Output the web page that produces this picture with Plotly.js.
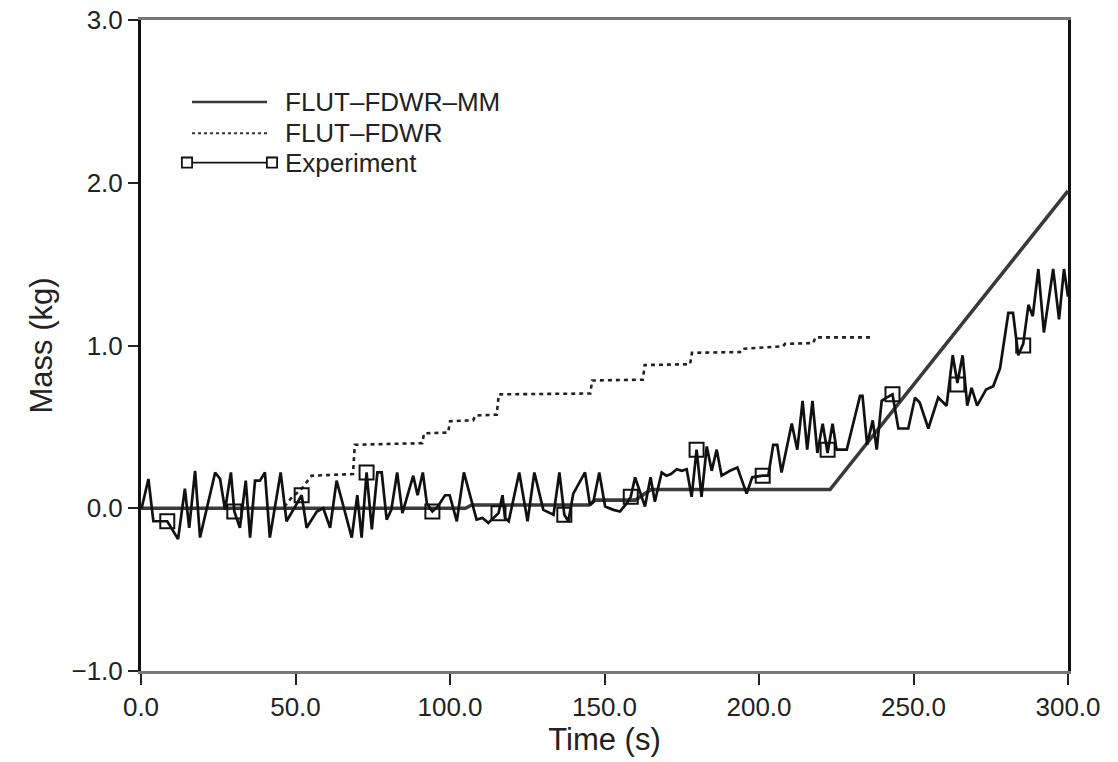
<!DOCTYPE html>
<html>
<head>
<meta charset="utf-8">
<script src="https://cdn.plot.ly/plotly-3.0.1.min.js"></script>
<style>
  html, body { margin: 0; padding: 0; background: #ffffff; }
  #chart { width: 1118px; height: 762px; }
</style>
</head>
<body>
<div id="chart"></div>
<script>
// ---- Data ----
const seriesNames = ["FLUT–FDWR–MM", "FLUT–FDWR", "Experiment"];

// FLUT-FDWR-MM (solid)
const mmTime = [0, 105, 107, 145, 147, 160, 165, 223, 300];
const mmMass = [0, 0, 0.02, 0.02, 0.05, 0.05, 0.115, 0.115, 1.95];

// FLUT-FDWR (dotted step line)
const fdwrTime = [0, 46, 48.5, 52, 55.2, 68.6, 69.2, 91, 91.6, 99.4, 100, 107.5, 108.2, 115.1, 115.8,
                  145.4, 146, 162.4, 163, 177.7, 178.3, 194.7, 195.3, 207.8, 208.4, 217.6, 218.2, 236.6];
const fdwrMass = [0, 0, 0.06, 0.12, 0.2, 0.21, 0.39, 0.4, 0.46, 0.465, 0.535, 0.54, 0.57, 0.575, 0.7,
                  0.705, 0.785, 0.79, 0.88, 0.885, 0.955, 0.96, 0.98, 0.995, 1.01, 1.015, 1.05, 1.05];

// Experiment (measured, noisy line)
const expTime = [0.2, 2.4, 4, 7.2, 8.5, 12, 14.2, 15.6, 17.5, 19.1, 24, 25.6, 27.2, 29.1, 30.2, 32, 33.9, 35.3,
  36.9, 38.5, 40.1, 41.7, 45.2, 47.1, 52, 53.6, 56.9, 59, 61.2, 63.3, 68.2, 70, 71.4, 73, 74.7, 76.5, 77.9,
  79.5, 81, 82.9, 84.6, 88.1, 89.5, 91.2, 92.5, 94.3, 96, 98.4, 99.9, 102.2, 104.5, 108.6, 110.5, 112.4,
  115.7, 117, 117.8, 119, 122.4, 125.1, 127.3, 130.2, 133.5, 135.4, 137, 138.3, 139.9, 143.7, 145.3, 146.4,
  148.3, 150.2, 152.9, 155, 157.2, 158.5, 159.9, 163.1, 164.9, 166.3, 168.5, 170, 171.5, 173.4, 175, 176.6,
  178.2, 179.8, 181.4, 183.1, 184.7, 186.3, 187.9, 190.6, 193, 196, 197.8, 201.2, 203, 204.6, 205.9, 207.3,
  210.6, 212.4, 214.1, 215.6, 217.3, 218.9, 220.6, 222.2, 223.8, 225.1, 228.4, 232.7, 233.5, 235, 236.8,
  238.1, 239.7, 241.3, 243.2, 245.1, 248.3, 250.5, 252, 254.8, 258, 260.7, 262.7, 264.2, 265.9, 267.4,
  268.8, 270.6, 273.5, 275.8, 278, 280.7, 282.2, 283.9, 285.5, 287.2, 288.6, 290.4, 292.2, 295.2, 297.1,
  298.7, 300];
const expMass = [0, 0.18, -0.08, -0.08, -0.08, -0.19, 0.12, -0.12, 0.23, -0.18, 0.22, 0.18, -0.01, 0.22, -0.02,
  -0.12, 0.17, -0.18, 0.17, 0.17, 0.22, -0.18, 0.22, -0.08, 0.08, -0.12, -0.02, 0, -0.12, 0.17, -0.18, 0.08,
  -0.18, 0.22, -0.13, 0.22, 0.22, -0.07, -0.01, 0.22, -0.03, 0.2, 0.08, 0.22, 0.03, -0.02, 0.01, 0.08, 0.08,
  -0.08, 0.22, -0.07, -0.06, -0.09, -0.03, 0.08, -0.06, -0.08, 0.22, -0.08, 0.22, -0.01, -0.04, 0.22, -0.04,
  -0.08, 0.09, 0.22, 0.02, 0.04, 0.22, 0.01, -0.01, -0.02, 0.03, 0.07, 0.19, 0.01, 0.19, 0.04, 0.22, 0.2,
  0.21, 0.24, 0.23, 0.24, 0.07, 0.36, 0.07, 0.38, 0.23, 0.36, 0.2, 0.23, 0.25, 0.09, 0.19, 0.2, 0.2, 0.39,
  0.39, 0.22, 0.52, 0.36, 0.66, 0.36, 0.66, 0.34, 0.52, 0.34, 0.52, 0.36, 0.36, 0.69, 0.69, 0.39, 0.54,
  0.36, 0.66, 0.68, 0.7, 0.49, 0.49, 0.68, 0.65, 0.49, 0.68, 0.63, 0.94, 0.77, 0.94, 0.63, 0.74, 0.63,
  0.73, 0.75, 0.86, 1.2, 1.2, 0.94, 1.01, 1.25, 1.18, 1.47, 1.08, 1.47, 1.16, 1.47, 1.3];

// Experiment square symbols
const expMarkTime = [8.5, 30.2, 52, 73, 94.3, 115.7, 137, 158.5, 179.8, 201.2, 222.2, 243.2, 264.2, 285.5];
const expMarkMass = [-0.08, -0.02, 0.08, 0.22, -0.02, -0.03, -0.04, 0.07, 0.36, 0.2, 0.36, 0.7, 0.76, 1.0];

// Axis ticks
const xTicks = [0, 50, 100, 150, 200, 250, 300];
const xTickLabels = ["0.0", "50.0", "100.0", "150.0", "200.0", "250.0", "300.0"];
const yTicks = [-1, 0, 1, 2, 3];
const yTickLabels = ["\u22121.0", "0.0", "1.0", "2.0", "3.0"];

// ---- Chart ----
const FONT = "Liberation Sans, Arial, sans-serif";
const traces = [
  { x: fdwrTime, y: fdwrMass, mode: "lines", name: seriesNames[1],
    line: { color: "#222", width: 2.6, dash: "4px,4px" }, showlegend: false },
  { x: mmTime, y: mmMass, mode: "lines", name: seriesNames[0],
    line: { color: "#3a3a3a", width: 3.6 }, showlegend: false },
  { x: expTime, y: expMass, mode: "lines", name: seriesNames[2],
    line: { color: "#111", width: 2.7 }, showlegend: false },
  { x: expMarkTime, y: expMarkMass, mode: "markers", name: seriesNames[2],
    marker: { symbol: "square-open", size: 14, color: "#111", line: { width: 2, color: "#111" } },
    showlegend: false }
];

// custom legend (paper coordinates)
const lgX0 = 0.055, lgX1 = 0.136, lgText = 0.153;
const lgY = [0.874, 0.826, 0.781];
const sq = (cx, cy) => ({ type: "rect", xref: "paper", yref: "paper",
  x0: cx - 0.0055, x1: cx + 0.0055, y0: cy - 0.0078, y1: cy + 0.0078,
  line: { color: "#111", width: 1.8 }, fillcolor: "rgba(0,0,0,0)" });

const layout = {
  width: 1118, height: 762,
  margin: { l: 141, r: 50, t: 20, b: 91 },
  paper_bgcolor: "#fff", plot_bgcolor: "#fff",
  font: { family: FONT, color: "#222", size: 26 },
  xaxis: {
    range: [0, 300], tickvals: xTicks, ticktext: xTickLabels,
    showgrid: false, zeroline: false,
    showline: true, mirror: true, linecolor: "#777", linewidth: 3,
    ticks: "outside", ticklen: 11, tickwidth: 2, tickcolor: "#222",
    tickfont: { size: 26, family: FONT, color: "#222" },
    title: { text: "Time (s)", font: { size: 31, family: FONT, color: "#222" }, standoff: 8 }
  },
  yaxis: {
    range: [-1, 3], tickvals: yTicks, ticktext: yTickLabels,
    showgrid: false, zeroline: false,
    showline: true, mirror: true, linecolor: "#111", linewidth: 3,
    ticks: "outside", ticklen: 10, tickwidth: 2, tickcolor: "#222",
    tickfont: { size: 26, family: FONT, color: "#222" },
    title: { text: "Mass (kg)", font: { size: 31, family: FONT, color: "#222" }, standoff: 10 }
  },
  showlegend: false,
  shapes: [
    { type: "line", xref: "paper", yref: "paper", x0: lgX0, x1: lgX1, y0: lgY[0], y1: lgY[0],
      line: { color: "#3a3a3a", width: 2.5 } },
    { type: "line", xref: "paper", yref: "paper", x0: lgX0, x1: lgX1, y0: lgY[1], y1: lgY[1],
      line: { color: "#333", width: 1.8, dash: "3px,3px" } },
    { type: "line", xref: "paper", yref: "paper", x0: 0.0496 + 0.0055, x1: 0.1413 - 0.0055, y0: lgY[2], y1: lgY[2],
      line: { color: "#111", width: 1.8 } },
    sq(0.0496, lgY[2]), sq(0.1413, lgY[2])
  ],
  annotations: seriesNames.map((n, i) => ({
    xref: "paper", yref: "paper", x: lgText, y: lgY[i], text: n, showarrow: false,
    xanchor: "left", yanchor: "middle", font: { size: 26, family: FONT, color: "#222" }
  }))
};

Plotly.newPlot("chart", traces, layout, { displayModeBar: false, staticPlot: true });
</script>
</body>
</html>
